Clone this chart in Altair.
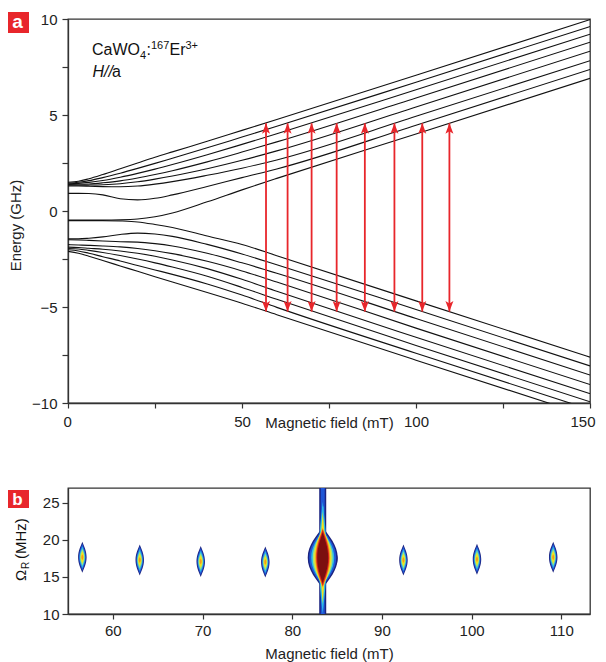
import altair as alt
import pandas as pd

FONT = "Liberation Sans, Arial, sans-serif"
AXIS_C = "#333333"
RED = "#e8262b"

# ---------------- panel a data ----------------
B_pts = [0, 3, 6, 10, 15, 20, 25, 30, 40, 50, 60, 100, 150]
upper_levels = [
    [1.50, 1.55, 1.68, 1.90, 2.20, 2.50, 2.80, 3.08, 3.63, 4.20, 4.77, 7.07, 9.97],
    [1.46, 1.50, 1.58, 1.74, 1.97, 2.22, 2.48, 2.75, 3.29, 3.85, 4.41, 6.71, 9.61],
    [1.42, 1.44, 1.49, 1.59, 1.76, 1.96, 2.18, 2.42, 2.93, 3.47, 4.02, 6.31, 9.21],
    [1.38, 1.39, 1.41, 1.47, 1.57, 1.72, 1.90, 2.10, 2.56, 3.07, 3.60, 5.89, 8.79],
    [1.34, 1.34, 1.35, 1.37, 1.42, 1.52, 1.66, 1.82, 2.20, 2.64, 3.13, 5.42, 8.32],
    [1.30, 1.30, 1.29, 1.27, 1.26, 1.30, 1.40, 1.53, 1.86, 2.23, 2.66, 4.93, 7.83],
    [0.92, 0.92, 0.91, 0.84, 0.64, 0.58, 0.66, 0.84, 1.28, 1.74, 2.19, 4.47, 7.37],
    [-0.47, -0.47, -0.47, -0.47, -0.46, -0.42, -0.30, -0.10, 0.48, 1.10, 1.70, 4.01, 6.91],
]
lower_levels = [
    [-0.50, -0.50, -0.50, -0.50, -0.52, -0.57, -0.70, -0.86, -1.30, -1.74, -2.33, -4.68, -7.61],
    [-1.45, -1.45, -1.42, -1.35, -1.22, -1.15, -1.20, -1.32, -1.74, -2.24, -2.80, -5.13, -8.07],
    [-1.50, -1.51, -1.53, -1.56, -1.60, -1.62, -1.70, -1.82, -2.20, -2.70, -3.24, -5.60, -8.54],
    [-1.75, -1.77, -1.79, -1.82, -1.87, -1.95, -2.07, -2.22, -2.62, -3.12, -3.70, -6.10, -9.04],
    [-1.88, -1.90, -1.94, -1.99, -2.08, -2.20, -2.36, -2.55, -3.00, -3.56, -4.18, -6.58, -9.51],
    [-1.95, -1.98, -2.05, -2.16, -2.32, -2.50, -2.70, -2.92, -3.40, -3.98, -4.60, -7.00, -9.94],
    [-2.02, -2.08, -2.20, -2.38, -2.60, -2.84, -3.07, -3.30, -3.80, -4.38, -5.02, -7.41, -10.34],
    [-2.10, -2.20, -2.36, -2.58, -2.86, -3.14, -3.42, -3.70, -4.24, -4.80, -5.40, -7.77, -10.70],
]
arrow_B = [56.9, 63.1, 70.0, 77.2, 85.3, 93.8, 101.8, 109.6]
arrow_top = 4.57
arrow_bottom = -5.24

# ---------------- panel b data ----------------
peak_B = [56.6, 63.0, 69.8, 77.0, 84.5, 83.4, 92.4, 100.6, 109.1]
peak_Omega = [17.65, 17.3, 17.1, 17.0, 17.5, 17.6, 17.3, 17.4, 17.65]
peak_kind = ["small", "small", "small", "small", "side", "main", "small", "small", "small"]
stripe_B = 83.4

# ---------------- styles (colour, width px, height px) ----------------
NAVY, BLUE, CYAN, LGRN, YEL, ORA, REDC, DRED = (
    "#1b2380", "#1f56d6", "#2cbbe6", "#a6e27a", "#f4e41c", "#f29a1e", "#d8241c", "#7c0f0f")
LEVEL_STYLE = {
    "small": [(NAVY, 8.5, 31), (BLUE, 7, 27), (CYAN, 5.6, 22),
              (LGRN, 4.3, 17), (YEL, 3.2, 12), (ORA, 2, 6)],
    "side": [(NAVY, 10, 26), (BLUE, 8, 22), (CYAN, 6.5, 18),
             (YEL, 4.5, 12), (REDC, 2.8, 7)],
    "main": [(NAVY, 30, 62), (BLUE, 27, 58), (CYAN, 8, 112), (CYAN, 23, 56),
             (LGRN, 20, 56), (YEL, 5, 92), (YEL, 17, 60), (ORA, 15, 60),
             (REDC, 13, 57), (DRED, 11, 51)],
}


def lens(a):
    b = a * 0.4
    return (f"M0,-1C{b:.3f},-0.7 {a:.3f},-0.42 {a:.3f},0"
            f"C{a:.3f},0.42 {b:.3f},0.7 0,1"
            f"C{-b:.3f},0.7 {-a:.3f},0.42 {-a:.3f},0"
            f"C{-a:.3f},-0.42 {-b:.3f},-0.7 0,-1Z")


rows = []
for i, vals in enumerate(upper_levels):
    for b, e in zip(B_pts, vals):
        rows.append({"B": b, "E": e, "lvl": f"u{i}"})
for i, vals in enumerate(lower_levels):
    for b, e in zip(B_pts, vals):
        rows.append({"B": b, "E": e, "lvl": f"l{i}"})
lines_df = pd.DataFrame(rows)
arrows_df = pd.DataFrame({"B": arrow_B, "lo": [arrow_bottom] * len(arrow_B),
                          "hi": [arrow_top] * len(arrow_B)})

blob_rows = []
order = 0
for b, om, kind in zip(peak_B, peak_Omega, peak_kind):
    for col, w, h in LEVEL_STYLE[kind]:
        blob_rows.append({"B": b, "Om": om, "color": col, "size": h * h,
                          "shape": lens(w / h), "ord": order})
        order += 1
blobs_df = pd.DataFrame(blob_rows)
stripe_df = pd.DataFrame({"B": [stripe_B], "lo": [10], "hi": [27],
                          "clo": [12.0], "chi": [24.5]})

one = pd.DataFrame({"k": [0]})

# ---------------- panel a ----------------
xa_scale = alt.Scale(domain=[0, 150], nice=False, zero=False)
ya_scale = alt.Scale(domain=[-10, 10], nice=False, zero=False)
xa_axis = alt.Axis(values=[0, 25, 50, 75, 100, 125, 150],
                   labelExpr="datum.value % 50 === 0 ? datum.label : ''",
                   title="Magnetic field (mT)", titleY=24, titleBaseline="alphabetic",
                   grid=False, tickSize=5, labelPadding=6, labelFlush=True,
                   labelFlushOffset=5)
ya_axis = alt.Axis(values=[-10, -7.5, -5, -2.5, 0, 2.5, 5, 7.5, 10],
                   labelExpr="datum.value % 5 === 0 ? datum.label : ''",
                   title="Energy (GHz)", titleX=-48, titleY=206,
                   titleBaseline="alphabetic", grid=False, tickSize=6, labelPadding=5,
                   labelFlush=False)


def XA(f):
    return alt.X(f, type="quantitative", scale=xa_scale, axis=xa_axis)


def YA(f):
    return alt.Y(f, type="quantitative", scale=ya_scale, axis=ya_axis)


lines = alt.Chart(lines_df).mark_line(color="#111111", strokeWidth=1.1, clip=True,
                                      interpolate="monotone").encode(
    x=XA("B"), y=YA("E"), detail="lvl:N")

shafts = alt.Chart(arrows_df).mark_rule(color=RED, strokeWidth=1.8).encode(
    x=XA("B"), y=YA("lo"), y2="hi:Q")
UP = "M0,0L-0.8,2.1L0,1.6L0.8,2.1Z"
DOWN = "M0,0L-0.8,-2.1L0,-1.6L0.8,-2.1Z"
heads_up = alt.Chart(arrows_df).mark_point(shape=UP, size=100, filled=True, color=RED,
                                           opacity=1, strokeWidth=0).encode(
    x=XA("B"), y=YA("hi"))
heads_dn = alt.Chart(arrows_df).mark_point(shape=DOWN, size=100, filled=True, color=RED,
                                           opacity=1, strokeWidth=0).encode(
    x=XA("B"), y=YA("lo"))


def txt(s, x, y, size=16, style="normal", weight="normal", color="#111111",
        align="left", baseline="alphabetic", angle=0, font=FONT):
    return alt.Chart(one).mark_text(text=s, fontSize=size, fontStyle=style,
                                    fontWeight=weight, color=color, align=align,
                                    baseline=baseline, angle=angle, font=font).encode(
        x=alt.value(x), y=alt.value(y))


box_a = alt.Chart(one).mark_rect(color=RED).encode(
    x=alt.value(-62), x2=alt.value(-39), y=alt.value(-7), y2=alt.value(14))
lab_a = txt("a", -50.5, 9, size=19, weight="bold", color="white", align="center")

annot = [
    txt("CaWO", 24, 36), txt("4", 72, 40, size=11), txt(":", 78.5, 36),
    txt("167", 83, 30, size=11), txt("Er", 101.5, 36), txt("3+", 117.5, 30, size=11),
    txt("H//", 24.5, 58, style="italic"), txt("a", 44, 58),
]

panel_a = alt.layer(lines, shafts, heads_up, heads_dn, box_a, lab_a, *annot).properties(
    width=522, height=384)

# ---------------- panel b ----------------
xb_scale = alt.Scale(domain=[55, 113.2], nice=False, zero=False)
yb_scale = alt.Scale(domain=[10, 27], nice=False, zero=False)
xb_axis = alt.Axis(values=[60, 70, 80, 90, 100, 110], title="Magnetic field (mT)",
                   titleY=44, titleBaseline="alphabetic", grid=False, tickSize=5,
                   labelPadding=4.5, labelFlush=False)
yb_axis = alt.Axis(values=[10, 15, 20, 25], title=None, grid=False, tickSize=6,
                   labelPadding=3, labelFlush=False)


def XB(f):
    return alt.X(f, type="quantitative", scale=xb_scale, axis=xb_axis)


def YB(f):
    return alt.Y(f, type="quantitative", scale=yb_scale, axis=yb_axis)


stripe_outer = alt.Chart(stripe_df).mark_rule(color=NAVY, strokeWidth=7, clip=True).encode(
    x=XB("B"), y=YB("lo"), y2="hi:Q")
stripe_inner = alt.Chart(stripe_df).mark_rule(color=BLUE, strokeWidth=4, clip=True).encode(
    x=XB("B"), y=YB("lo"), y2="hi:Q")
stripe_core = alt.Chart(stripe_df).mark_rule(color=CYAN, strokeWidth=1.5, clip=True).encode(
    x=XB("B"), y=YB("clo"), y2="chi:Q")
blobs = alt.Chart(blobs_df).mark_point(filled=True, opacity=1, strokeWidth=0, clip=True).encode(
    x=XB("B"), y=YB("Om"),
    color=alt.Color("color:N", scale=None),
    size=alt.Size("size:Q", scale=None),
    shape=alt.Shape("shape:N", scale=None),
    order=alt.Order("ord:Q"))

box_b = alt.Chart(one).mark_rect(color=RED).encode(
    x=alt.value(-62), x2=alt.value(-39), y=alt.value(2), y2=alt.value(20))
lab_b = txt("b", -50.5, 17, size=17, weight="bold", color="white", align="center")
ytitle_b = [txt("Ω", -42.5, 93, size=15, angle=270),
            txt("R", -39, 81, size=10, angle=270),
            txt("(MHz)", -42.5, 71, size=15, angle=270)]

panel_b = alt.layer(stripe_outer, stripe_inner, stripe_core, blobs, box_b, lab_b,
                    *ytitle_b).properties(width=522, height=126)

PAD = {"left": -3, "top": 3, "right": 0, "bottom": 0}
chart = alt.vconcat(panel_a, panel_b, spacing=56, background="white").properties(
    padding=PAD
).configure(padding=PAD).configure_view(stroke=AXIS_C, strokeWidth=1.3).configure_axis(
    domainColor=AXIS_C, domainWidth=1.3, tickColor=AXIS_C, tickWidth=1.2,
    labelColor="#222222", titleColor="#222222", labelFont=FONT, titleFont=FONT,
    labelFontSize=15, titleFontSize=15, titleFontWeight="normal"
)

chart.save("out.html", embed_options={"renderer": "svg", "actions": False})
